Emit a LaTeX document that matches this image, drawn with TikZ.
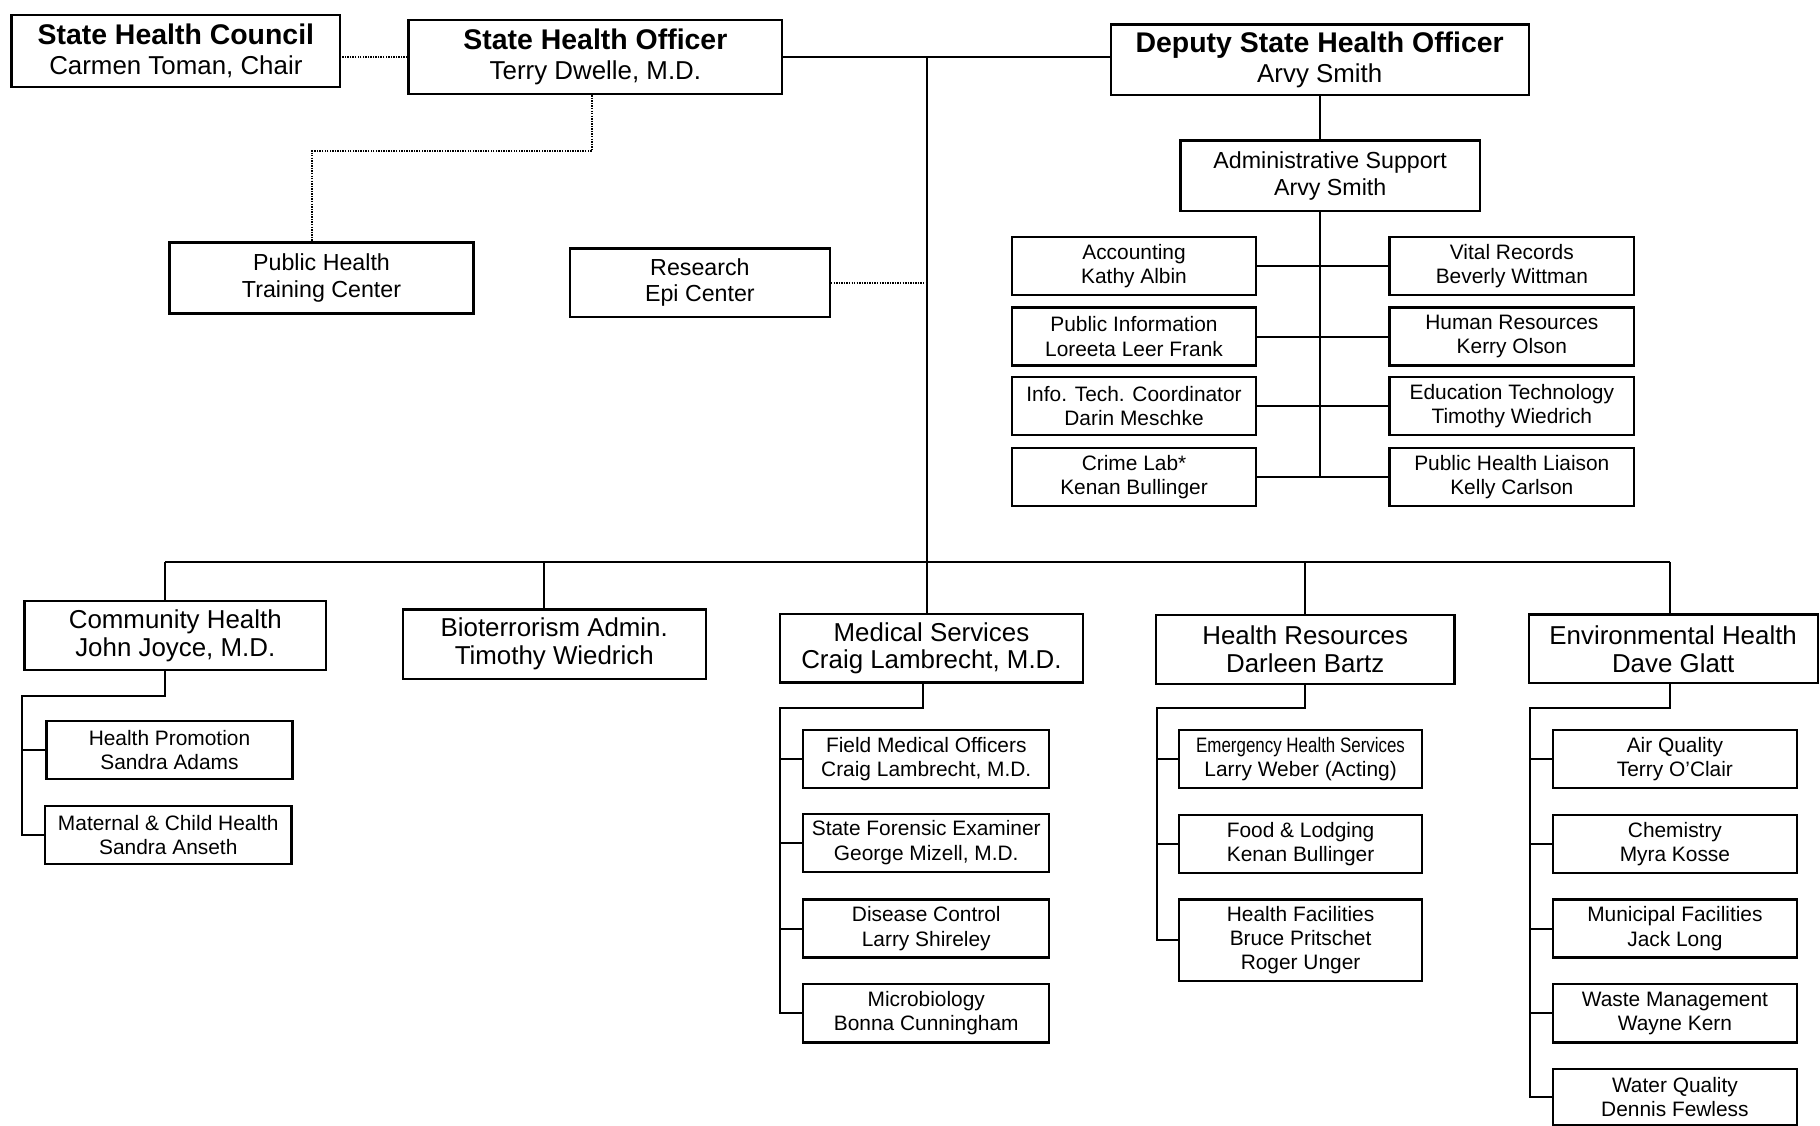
\documentclass[tikz,border=0pt]{standalone}
\usepackage{fontspec}
\setmainfont{Liberation Sans}
\newcommand\ttlfont{\fontsize{24.5}{26}\selectfont\bfseries}
\tikzset{
  box/.style={draw, line width=2pt, inner sep=0pt, align=center, fill=white},
  ttl/.style={box, font=\fontsize{22.3}{26}\selectfont},
  big/.style={box, font=\fontsize{22.3}{24}\selectfont},
  mid/.style={box, font=\fontsize{20}{23}\selectfont},
  small/.style={box, font=\fontsize{18}{21}\selectfont, minimum height=50pt},
  conn/.style={line width=1.8pt},
  dotline/.style={line width=1.6pt, dash pattern=on 1.2pt off 1pt},
}
\begin{document}
\begin{tikzpicture}[x=1pt,y=-1pt]
\useasboundingbox (0,0) rectangle (1568,970);
% top row
\node[ttl, minimum width=283pt, minimum height=62pt] (shc) at (151.5,44) {{\ttlfont State Health Council}\\Carmen Toman, Chair};
\node[ttl, minimum width=322pt, minimum height=64pt] (sho) at (513,49) {{\ttlfont State Health Officer}\\Terry Dwelle, M.D.};
\node[ttl, minimum width=360pt, minimum height=61pt] (dsho) at (1137,51.5) {{\ttlfont Deputy State Health Officer}\\Arvy Smith};
\node[mid, minimum width=262pt, minimum height=61pt] (phtc) at (277,239.5) {Public Health\\Training Center};
\node[mid, minimum width=224pt, minimum height=59pt] (res) at (603,243.5) {Research\\Epi Center};
\node[mid, minimum width=258pt, minimum height=61pt] (adm) at (1146,151.5) {Administrative Support\\Arvy Smith};
% admin children
\node[small, minimum width=210pt] (acc) at (977,229) {Accounting\\Kathy Albin};
\node[small, minimum width=210pt] (pi) at (977,290) {Public Information\\Loreeta Leer Frank};
\node[small, minimum width=210pt] (itc) at (977,350) {Info. Tech. Coordinator\\Darin Meschke};
\node[small, minimum width=210pt] (cl) at (977,411) {Crime Lab*\\Kenan Bullinger};
\node[small, minimum width=211pt] (vr) at (1302.5,229) {Vital Records\\Beverly Wittman};
\node[small, minimum width=211pt] (hr) at (1302.5,290) {Human Resources\\Kerry Olson};
\node[small, minimum width=211pt] (et) at (1302.5,350) {Education Technology\\Timothy Wiedrich};
\node[small, minimum width=211pt] (phl) at (1302.5,411) {Public Health Liaison\\Kelly Carlson};
% second row
\node[big, minimum width=260pt, minimum height=59pt] (ch) at (151,547.5) {Community Health\\John Joyce, M.D.};
\node[big, minimum width=261pt, minimum height=60pt] (bio) at (477.5,555) {Bioterrorism Admin.\\Timothy Wiedrich};
\node[big, minimum width=261pt, minimum height=59pt] (ms) at (802.5,558.5) {Medical Services\\Craig Lambrecht, M.D.};
\node[big, minimum width=257pt, minimum height=59pt] (hres) at (1124.5,559.5) {Health Resources\\Darleen Bartz};
\node[big, minimum width=249pt, minimum height=59pt] (env) at (1441.5,559) {Environmental Health\\Dave Glatt};
% community health children
\node[small, minimum width=212pt] (hp) at (146,646) {Health Promotion\\Sandra Adams};
\node[small, minimum width=212pt] (mch) at (145,719.5) {Maternal \& Child Health\\Sandra Anseth};
% medical services children
\node[small, minimum width=212pt] (fmo) at (798,654) {Field Medical Officers\\Craig Lambrecht, M.D.};
\node[small, minimum width=212pt] (sfe) at (798,726) {State Forensic Examiner\\George Mizell, M.D.};
\node[small, minimum width=212pt] (dc) at (798,800) {Disease Control\\Larry Shireley};
\node[small, minimum width=212pt] (mic) at (798,873) {Microbiology\\Bonna Cunningham};
% health resources children
\node[small, minimum width=209pt] (ehs) at (1120.5,654) {\scalebox{0.81}[1]{Emergency Health Services}\\Larry Weber (Acting)};
\node[small, minimum width=209pt] (fl) at (1120.5,727) {Food \& Lodging\\Kenan Bullinger};
\node[small, minimum width=209pt, minimum height=70pt] (hf) at (1120.5,810) {Health Facilities\\Bruce Pritschet\\Roger Unger};
% environmental health children
\node[small, minimum width=210pt] (aq) at (1443,654) {Air Quality\\Terry O'Clair};
\node[small, minimum width=210pt] (chem) at (1443,727) {Chemistry\\Myra Kosse};
\node[small, minimum width=210pt] (mf) at (1443,800) {Municipal Facilities\\Jack Long};
\node[small, minimum width=210pt] (wm) at (1443,873) {Waste Management\\Wayne Kern};
\node[small, minimum width=210pt, minimum height=48pt] (wq) at (1443,945) {Water Quality\\Dennis Fewless};

% coordinates
\coordinate (t1) at (799,49);
\coordinate (d1) at (510,130);
\coordinate (d2) at (269,130);
\coordinate (busL) at (142,484);
\coordinate (busR) at (1439,484);
\coordinate (bB) at (469,484);
\coordinate (bH) at (1124,484);
\coordinate (chA) at (142,600);
\coordinate (chJ) at (19,600);
\coordinate (msA) at (795,610);
\coordinate (msJ) at (672,610);
\coordinate (hrA) at (1124,610);
\coordinate (hrJ) at (997,610);
\coordinate (enA) at (1439,610);
\coordinate (enJ) at (1318,610);

% dotted links
\draw[dotline] (sho.west) -- (sho.west -| shc.east);
\draw[dotline] (sho.south -| d1) -- (d1) -- (d2) -- (d2 |- phtc.north);
\draw[dotline] (res.east) -- (res.east -| t1);

% solid links
\draw[conn] (sho.east |- t1) -- (t1 -| dsho.west);
\draw[conn] (t1) -- (t1 |- ms.north);
\draw[conn] (busL) -- (busR);
\draw[conn] (busL) -- (busL |- ch.north);
\draw[conn] (bB) -- (bB |- bio.north);
\draw[conn] (bH) -- (bH |- hres.north);
\draw[conn] (busR) -- (busR |- env.north);

\draw[conn] (dsho.south) -- (dsho.south |- adm.north);
\draw[conn] (adm.south -| dsho.south) -- (cl.east -| dsho.south);
\draw[conn] (acc.east) -- (vr.west);
\draw[conn] (pi.east) -- (hr.west);
\draw[conn] (itc.east) -- (et.west);
\draw[conn] (cl.east) -- (phl.west);

\draw[conn] (ch.south -| chA) -- (chA) -- (chJ) |- (mch.west);
\draw[conn] (chJ) |- (hp.west);

\draw[conn] (ms.south -| msA) -- (msA) -- (msJ) |- (mic.west);
\foreach \n in {fmo,sfe,dc} \draw[conn] (msJ) |- (\n.west);

\draw[conn] (hres.south -| hrA) -- (hrA) -- (hrJ) |- (hf.west);
\foreach \n in {ehs,fl} \draw[conn] (hrJ) |- (\n.west);

\draw[conn] (env.south -| enA) -- (enA) -- (enJ) |- (wq.west);
\foreach \n in {aq,chem,mf,wm} \draw[conn] (enJ) |- (\n.west);
\end{tikzpicture}
\end{document}
